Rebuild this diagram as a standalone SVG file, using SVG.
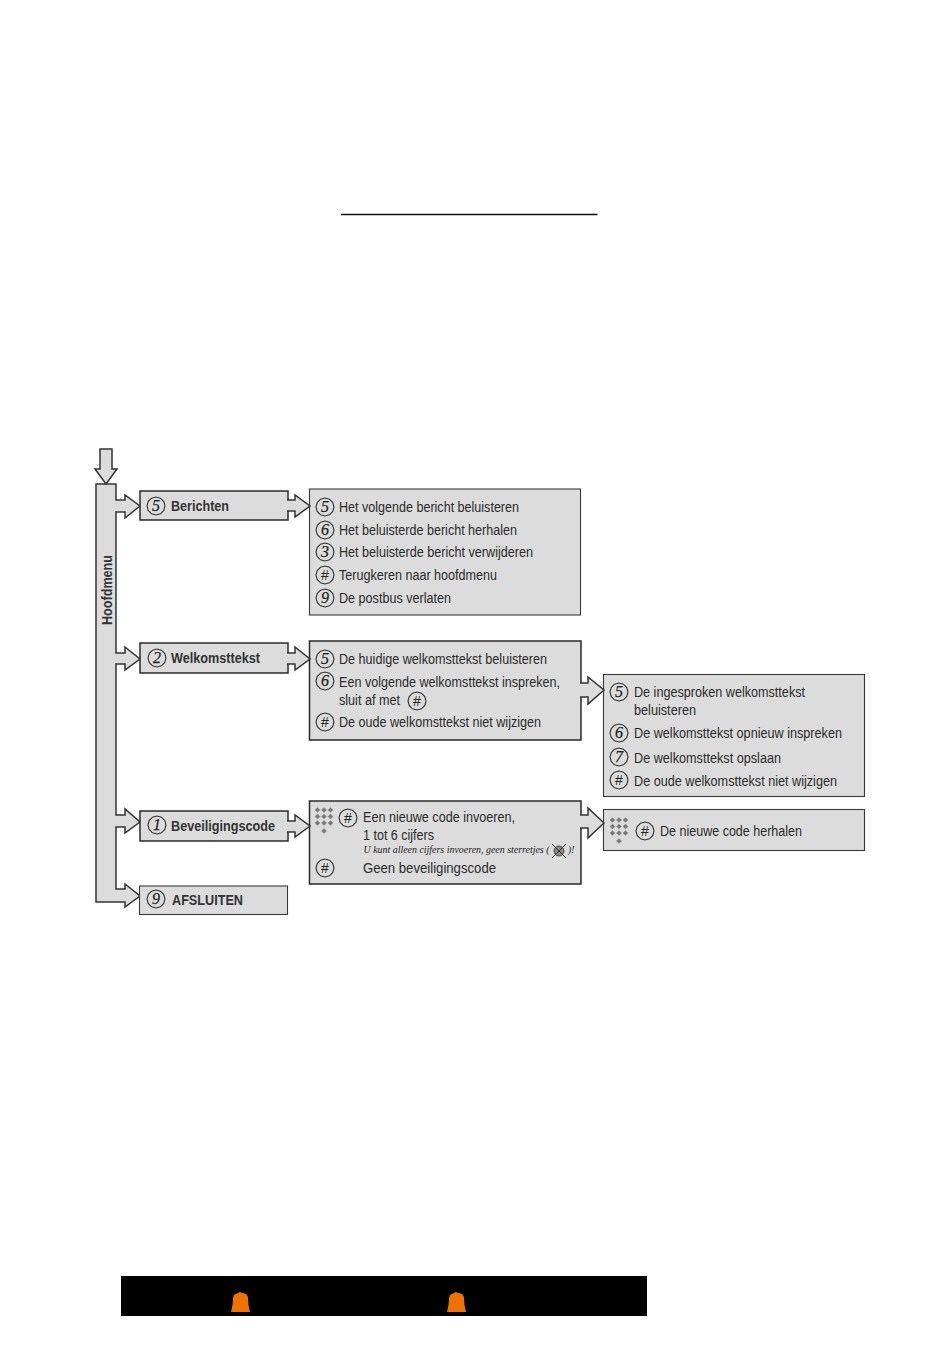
<svg xmlns="http://www.w3.org/2000/svg" width="950" height="1346" viewBox="0 0 950 1346">
<style>
text{font-family:"Liberation Sans",Arial,sans-serif;fill:#2b2b2b;font-size:14px}
.b{font-weight:bold;fill:#333}
.d{font-style:italic;font-size:16px;text-anchor:middle;font-family:"Liberation Serif",serif;fill:#222;stroke:#222;stroke-width:.25}
.h{font-size:14px;text-anchor:middle;fill:#222}
.s{font-family:"Liberation Serif",serif;font-style:italic;font-size:9.5px;fill:#222}
.box{fill:#dcdcdc;stroke:#3a3a3a;stroke-width:1.1}
.btn{fill:#dcdcdc;stroke:#2a2a2a;stroke-width:1.5}
.arr{fill:#dcdcdc;stroke:#333;stroke-width:1.5;stroke-linejoin:miter}
.oc{fill:none;stroke:#333;stroke-width:1.1}
.kd{fill:#777;stroke:#999;stroke-width:.4}
</style>
<defs>
<polygon id="oc" class="oc" points="9,0 7.8,4.5 4.5,7.8 0,9 -4.5,7.8 -7.8,4.5 -9,0 -7.8,-4.5 -4.5,-7.8 0,-9 4.5,-7.8 7.8,-4.5"/>
<polygon id="kd" class="kd" points="0,-2.6 2.6,0 0,2.6 -2.6,0"/>
<g id="pad">
<use href="#kd" x="-6.5" y="-13"/><use href="#kd" x="0" y="-13"/><use href="#kd" x="6.5" y="-13"/>
<use href="#kd" x="-6.5" y="-6.5"/><use href="#kd" x="0" y="-6.5"/><use href="#kd" x="6.5" y="-6.5"/>
<use href="#kd" x="-6.5" y="0"/><use href="#kd" x="0" y="0"/><use href="#kd" x="6.5" y="0"/>
<use href="#kd" x="0" y="8"/>
</g>
<path id="bell" d="M-9.500,10 L-8,3 L-7.500,-4 Q-7,-8 -3.500,-8.500 L-1,-10 L2,-9 Q7.500,-8.500 7.500,-4 L8,3 L9.500,10 Z" fill="#ee7203"/>
</defs>
<rect width="950" height="1346" fill="#fff"/>
<line id="top-rule" x1="341" y1="214.500" x2="597.500" y2="214.500" stroke="#111" stroke-width="1.300"/>

<g id="hoofdmenu">
<polygon class="arr" points="96,484 116,484 116,500 125,500 125,495 140,506 125,518 125,512 116,512 116,653 125,653 125,647 140,659 125,670 125,664 116,664 116,815 125,815 125,809 140,822 125,833 125,827 116,827 116,889 125,889 125,884 140,896 125,907 125,902 96,902"/>
<text class="b" transform="translate(112 625) rotate(-90)" textLength="70" lengthAdjust="spacingAndGlyphs">Hoofdmenu</text>
</g>

<g id="berichten">
<rect class="btn" x="140" y="491" width="148" height="29"/>
<use href="#oc" x="156" y="506"/><text class="d" x="156" y="511">5</text>
<text class="b" x="171" y="511" textLength="58" lengthAdjust="spacingAndGlyphs">Berichten</text>
</g>
<g id="welkomsttekst">
<rect class="btn" x="140" y="643" width="148" height="30"/>
<use href="#oc" x="157" y="658"/><text class="d" x="157" y="663">2</text>
<text class="b" x="171" y="663" textLength="89" lengthAdjust="spacingAndGlyphs">Welkomsttekst</text>
</g>
<g id="beveiligingscode">
<rect class="btn" x="140" y="811" width="148" height="30"/>
<use href="#oc" x="157" y="825"/><text class="d" x="157" y="830">1</text>
<text class="b" x="171" y="831" textLength="104" lengthAdjust="spacingAndGlyphs">Beveiligingscode</text>
</g>
<g id="afsluiten">
<rect class="box" x="139.500" y="886" width="148" height="28.500"/>
<use href="#oc" x="156" y="899"/><text class="d" x="156" y="904">9</text>
<text class="b" x="172" y="905" textLength="71" lengthAdjust="spacingAndGlyphs">AFSLUITEN</text>
</g>

<g id="berichten-menu">
<rect class="box" x="309.500" y="489" width="271" height="126"/>
<use href="#oc" x="325" y="507"/><text class="d" x="325" y="512">5</text>
<use href="#oc" x="325" y="530"/><text class="d" x="325" y="535">6</text>
<use href="#oc" x="325" y="552"/><text class="d" x="325" y="557">3</text>
<use href="#oc" x="325" y="575"/><text class="h" x="325" y="580">#</text>
<use href="#oc" x="325" y="598"/><text class="d" x="325" y="603">9</text>
<text x="339" y="512" textLength="180" lengthAdjust="spacingAndGlyphs">Het volgende bericht beluisteren</text>
<text x="339" y="535" textLength="178" lengthAdjust="spacingAndGlyphs">Het beluisterde bericht herhalen</text>
<text x="339" y="557" textLength="194" lengthAdjust="spacingAndGlyphs">Het beluisterde bericht verwijderen</text>
<text x="339" y="580" textLength="158" lengthAdjust="spacingAndGlyphs">Terugkeren naar hoofdmenu</text>
<text x="339" y="603" textLength="112" lengthAdjust="spacingAndGlyphs">De postbus verlaten</text>
</g>

<g id="welkomst-menu">
<rect class="btn" x="309.500" y="641" width="271.500" height="99"/>
<use href="#oc" x="325" y="659"/><text class="d" x="325" y="664">5</text>
<use href="#oc" x="325" y="681"/><text class="d" x="325" y="686">6</text>
<use href="#oc" x="417" y="701"/><text class="h" x="417" y="706">#</text>
<use href="#oc" x="325" y="722"/><text class="h" x="325" y="727">#</text>
<text x="339" y="664" textLength="208" lengthAdjust="spacingAndGlyphs">De huidige welkomsttekst beluisteren</text>
<text x="339" y="687" textLength="221" lengthAdjust="spacingAndGlyphs">Een volgende welkomsttekst inspreken,</text>
<text x="339" y="705" textLength="61" lengthAdjust="spacingAndGlyphs">sluit af met</text>
<text x="339" y="727" textLength="202" lengthAdjust="spacingAndGlyphs">De oude welkomsttekst niet wijzigen</text>
</g>

<g id="welkomst-opslaan">
<rect class="box" x="603.500" y="674.500" width="261" height="122"/>
<use href="#oc" x="619" y="692"/><text class="d" x="619" y="697">5</text>
<use href="#oc" x="619" y="733"/><text class="d" x="619" y="738">6</text>
<use href="#oc" x="619" y="757"/><text class="d" x="619" y="762">7</text>
<use href="#oc" x="619" y="780"/><text class="h" x="619" y="785">#</text>
<text x="634" y="697" textLength="171" lengthAdjust="spacingAndGlyphs">De ingesproken welkomsttekst</text>
<text x="634" y="715" textLength="62" lengthAdjust="spacingAndGlyphs">beluisteren</text>
<text x="634" y="738" textLength="208" lengthAdjust="spacingAndGlyphs">De welkomsttekst opnieuw inspreken</text>
<text x="634" y="763" textLength="147" lengthAdjust="spacingAndGlyphs">De welkomsttekst opslaan</text>
<text x="634" y="786" textLength="203" lengthAdjust="spacingAndGlyphs">De oude welkomsttekst niet wijzigen</text>
</g>

<g id="code-invoeren">
<rect class="btn" x="309.500" y="801" width="271.500" height="83"/>
<use href="#pad" x="324" y="823"/>
<use href="#oc" x="348" y="818"/><text class="h" x="348" y="823">#</text>
<use href="#oc" x="325" y="868"/><text class="h" x="325" y="873">#</text>
<text x="363" y="822" textLength="152" lengthAdjust="spacingAndGlyphs">Een nieuwe code invoeren,</text>
<text x="363" y="840" textLength="71" lengthAdjust="spacingAndGlyphs">1 tot 6 cijfers</text>
<text class="s" x="363.500" y="853" textLength="186" lengthAdjust="spacingAndGlyphs">U kunt alleen cijfers invoeren, geen sterretjes (</text>
<circle cx="559" cy="851" r="5" fill="#888" stroke="#333" stroke-width=".8"/>
<path d="M552,844 L566,858 M566,844 L552,858" stroke="#333" stroke-width="1" fill="none"/>
<text class="s" x="568" y="853">)!</text>
<text x="363" y="873" textLength="133" lengthAdjust="spacingAndGlyphs">Geen beveiligingscode</text>
</g>

<g id="code-herhalen">
<rect class="box" x="603.500" y="809.500" width="261" height="41"/>
<use href="#pad" x="619" y="833"/>
<use href="#oc" x="645" y="831"/><text class="h" x="645" y="836">#</text>
<text x="660" y="836" textLength="142" lengthAdjust="spacingAndGlyphs">De nieuwe code herhalen</text>
</g>

<g id="connectors">
<polygon class="arr" points="100,449 112,449 112,469 117,469 106,484 95,469 100,469"/>
<path class="arr" d="M287,500 H295 V495 L310,506 L295,517 V511 H287"/>
<path class="arr" d="M287,653 H295 V647 L310,659 L295,670 V664 H287"/>
<path class="arr" d="M287,821 H295 V815 L310,826 L295,837 V832 H287"/>
<path class="arr" d="M580,683 H588 V677 L604,690 L588,704 V697 H580"/>
<path class="arr" d="M580,815 H588 V808 L604,823 L588,838 V828 H580"/>
</g>

<g id="footer">
<rect x="121" y="1276" width="526" height="40" fill="#000"/>
<use href="#bell" x="240.500" y="1302"/>
<use href="#bell" x="456.500" y="1302"/>
</g>
</svg>
